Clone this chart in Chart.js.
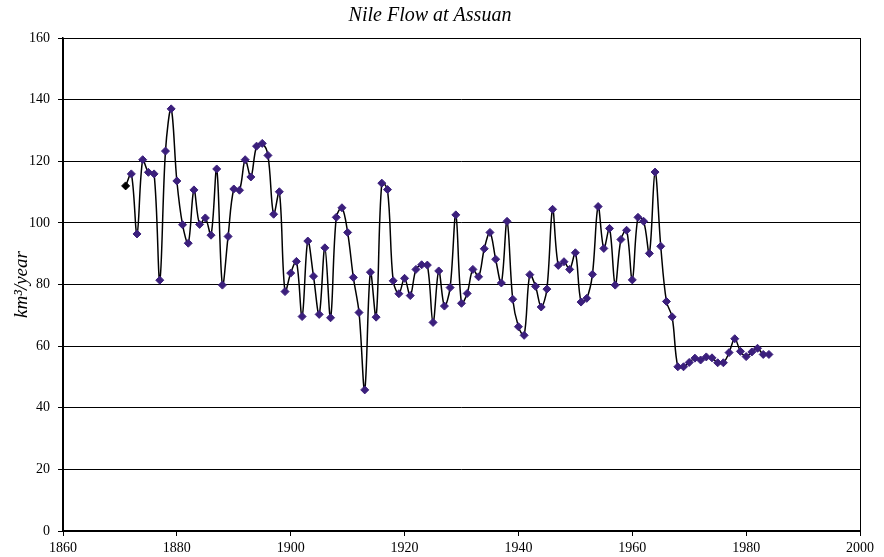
<!DOCTYPE html>
<html>
<head>
<meta charset="utf-8">
<script src="https://cdn.jsdelivr.net/npm/chart.js@4"></script>
<style>
  html, body { margin: 0; padding: 0; background: #fff; }
</style>
</head>
<body>
<canvas id="chart" width="884" height="557"></canvas>
<script>
// annual flow of the Nile at Assuan
const years = [
  1871, 1872, 1873, 1874, 1875, 1876, 1877, 1878, 1879, 1880,
  1881, 1882, 1883, 1884, 1885, 1886, 1887, 1888, 1889, 1890,
  1891, 1892, 1893, 1894, 1895, 1896, 1897, 1898, 1899, 1900,
  1901, 1902, 1903, 1904, 1905, 1906, 1907, 1908, 1909, 1910,
  1911, 1912, 1913, 1914, 1915, 1916, 1917, 1918, 1919, 1920,
  1921, 1922, 1923, 1924, 1925, 1926, 1927, 1928, 1929, 1930,
  1931, 1932, 1933, 1934, 1935, 1936, 1937, 1938, 1939, 1940,
  1941, 1942, 1943, 1944, 1945, 1946, 1947, 1948, 1949, 1950,
  1951, 1952, 1953, 1954, 1955, 1956, 1957, 1958, 1959, 1960,
  1961, 1962, 1963, 1964, 1965, 1966, 1967, 1968, 1969, 1970,
  1971, 1972, 1973, 1974, 1975, 1976, 1977, 1978, 1979, 1980,
  1981, 1982, 1983, 1984
];
const flow = [
  112.0, 115.9, 96.4, 120.5, 116.4, 115.9, 81.4, 123.3, 137.0, 113.6,
  99.4, 93.4, 110.7, 99.5, 101.6, 96.0, 117.5, 79.8, 95.6, 111.0,
  110.6, 120.5, 114.9, 124.9, 125.8, 121.9, 102.8, 110.1, 77.7, 83.7,
  87.5, 69.6, 94.1, 82.7, 70.3, 91.9, 69.2, 101.8, 104.9, 96.9,
  82.3, 70.9, 45.8, 84.0, 69.4, 112.9, 110.8, 81.2, 77.0, 82.0,
  76.4, 84.9, 86.4, 86.3, 67.7, 84.4, 73.0, 79.0, 102.6, 73.9,
  77.1, 84.9, 82.5, 91.6, 96.9, 88.2, 80.5, 100.5, 75.2, 66.3,
  63.5, 83.2, 79.4, 72.7, 78.5, 104.4, 86.2, 87.4, 84.9, 90.3,
  74.3, 75.5, 83.3, 105.3, 91.7, 98.2, 79.8, 94.6, 97.6, 81.5,
  101.8, 100.5, 90.1, 116.5, 92.4, 74.5, 69.5, 53.3, 53.3, 54.7,
  56.1, 55.5, 56.5, 56.2, 54.6, 54.6, 57.9, 62.4, 58.3, 56.6,
  58.1, 59.3, 57.3, 57.3
];
const xTicks = [1860, 1880, 1900, 1920, 1940, 1960, 1980, 2000];
const yTicks = [0, 20, 40, 60, 80, 100, 120, 140, 160];

const serif = 'Liberation Serif';
const markerColor = '#3b1f7c';

// thin frame round the plot area (top and right edges)
const frame = {
  id: 'frame',
  beforeDatasetsDraw(chart) {
    const { ctx, chartArea: a } = chart;
    ctx.save();
    ctx.strokeStyle = '#000';
    ctx.lineWidth = 1;
    ctx.strokeRect(Math.round(a.left) + 0.5, Math.round(a.top) + 0.5,
      Math.round(a.right - a.left), Math.round(a.bottom - a.top));
    ctx.restore();
  }
};

const ctx = document.getElementById('chart').getContext('2d');
new Chart(ctx, {
  type: 'line',
  data: {
    datasets: [{
      data: years.map((yr, i) => ({ x: yr, y: flow[i] })),
      borderColor: '#000',
      borderWidth: 1.5,
      tension: 0.35,
      pointStyle: 'rectRot',
      pointRadius: 4,
      pointBorderWidth: 1,
      pointBackgroundColor: years.map((yr, i) => i === 0 ? '#000' : markerColor),
      pointBorderColor: years.map((yr, i) => i === 0 ? '#000' : markerColor)
    }]
  },
  options: {
    responsive: false,
    animation: false,
    layout: { padding: { left: 0, right: 24, top: 0, bottom: 0 } },
    plugins: {
      legend: { display: false },
      tooltip: { enabled: false },
      title: {
        display: true,
        text: 'Nile Flow at Assuan',
        color: '#000',
        font: { family: serif, style: 'italic', size: 20, weight: 'normal' },
        padding: { top: 4, bottom: 10 }
      }
    },
    scales: {
      x: {
        type: 'linear',
        min: xTicks[0],
        max: xTicks[xTicks.length - 1],
        afterBuildTicks: s => { s.ticks = xTicks.map(v => ({ value: v })); },
        afterFit: s => { s.height = 26; },
        border: { display: true, color: '#000', width: 2 },
        grid: { drawOnChartArea: false, drawTicks: true, tickLength: 5, color: '#000' },
        ticks: {
          color: '#000',
          padding: 4,
          maxRotation: 0,
          font: { family: serif, size: 14 },
          callback: v => String(v)
        }
      },
      y: {
        min: yTicks[0],
        max: yTicks[yTicks.length - 1],
        afterBuildTicks: s => { s.ticks = yTicks.map(v => ({ value: v })); },
        afterFit: s => { s.width = 63; },
        border: { display: true, color: '#000', width: 1.5 },
        grid: { color: '#000', lineWidth: 1, drawTicks: true, tickLength: 5 },
        ticks: {
          color: '#000',
          padding: 8,
          font: { family: serif, size: 14 },
          callback: v => String(v)
        },
        title: {
          display: true,
          text: 'km³/year',
          color: '#000',
          font: { family: serif, style: 'italic', size: 19 },
          padding: { top: 11, bottom: 0 }
        }
      }
    }
  },
  plugins: [frame]
});
</script>
</body>
</html>
